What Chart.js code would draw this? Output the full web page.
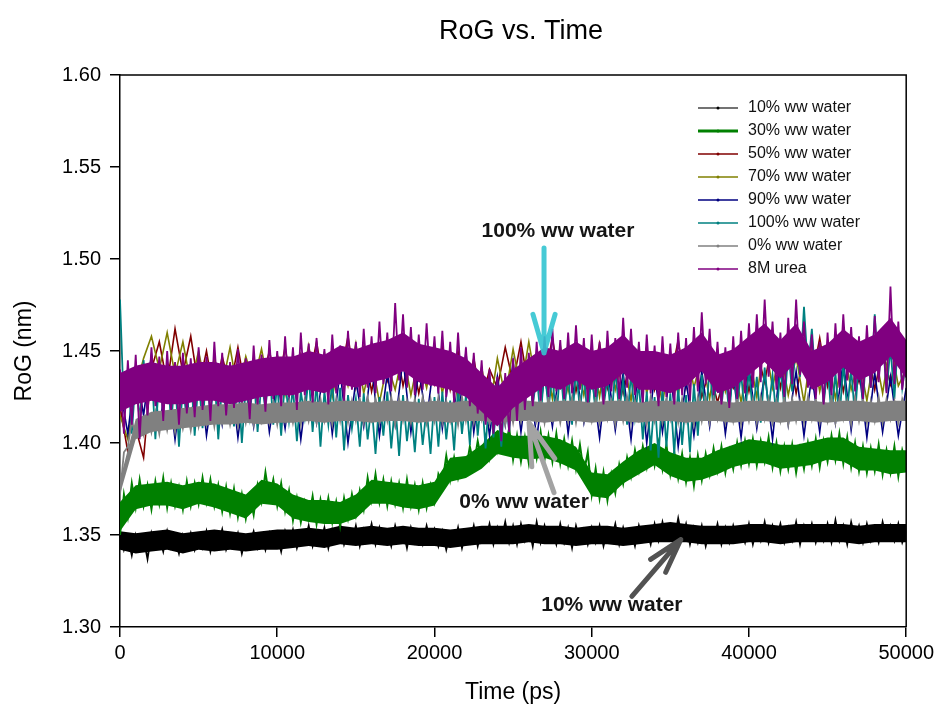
<!DOCTYPE html>
<html>
<head>
<meta charset="utf-8">
<title>RoG vs. Time</title>
<script src="https://cdn.jsdelivr.net/npm/chart.js@4.4.1/dist/chart.umd.min.js"></script>
<style>
  html, body { margin: 0; padding: 0; background: #fff; }
  #wrap { width: 938px; height: 706px; }
</style>
</head>
<body>
<div id="wrap"><canvas id="rogChart" width="938" height="706"></canvas></div>
<script>
// Sampling times (ps)
const timeFine = [
  0,250,500,750,1000,1250,1500,1750,2000,2250,2500,2750,3000,3250,3500,3750,4000,4250,4500,4750,
  5000,5250,5500,5750,6000,6250,6500,6750,7000,7250,7500,7750,8000,8250,8500,8750,9000,9250,9500,9750,
  10000,10250,10500,10750,11000,11250,11500,11750,12000,12250,12500,12750,13000,13250,13500,13750,14000,14250,14500,14750,
  15000,15250,15500,15750,16000,16250,16500,16750,17000,17250,17500,17750,18000,18250,18500,18750,19000,19250,19500,19750,
  20000,20250,20500,20750,21000,21250,21500,21750,22000,22250,22500,22750,23000,23250,23500,23750,24000,24250,24500,24750,
  25000,25250,25500,25750,26000,26250,26500,26750,27000,27250,27500,27750,28000,28250,28500,28750,29000,29250,29500,29750,
  30000,30250,30500,30750,31000,31250,31500,31750,32000,32250,32500,32750,33000,33250,33500,33750,34000,34250,34500,34750,
  35000,35250,35500,35750,36000,36250,36500,36750,37000,37250,37500,37750,38000,38250,38500,38750,39000,39250,39500,39750,
  40000,40250,40500,40750,41000,41250,41500,41750,42000,42250,42500,42750,43000,43250,43500,43750,44000,44250,44500,44750,
  45000,45250,45500,45750,46000,46250,46500,46750,47000,47250,47500,47750,48000,48250,48500,48750,49000,49250,49500,49750,
  50000
];
const timeCoarse = [
  0,500,1000,1500,2000,2500,3000,3500,4000,4500,5000,5500,6000,6500,7000,7500,8000,8500,9000,9500,
  10000,10500,11000,11500,12000,12500,13000,13500,14000,14500,15000,15500,16000,16500,17000,17500,18000,18500,19000,19500,
  20000,20500,21000,21500,22000,22500,23000,23500,24000,24500,25000,25500,26000,26500,27000,27500,28000,28500,29000,29500,
  30000,30500,31000,31500,32000,32500,33000,33500,34000,34500,35000,35500,36000,36500,37000,37500,38000,38500,39000,39500,
  40000,40500,41000,41500,42000,42500,43000,43500,44000,44500,45000,45500,46000,46500,47000,47500,48000,48500,49000,49500,
  50000
];
const timeEnv = [
  0,1000,2000,3000,4000,5000,6000,7000,8000,9000,
  10000,11000,12000,13000,14000,15000,16000,17000,18000,19000,
  20000,21000,22000,23000,24000,25000,26000,27000,28000,29000,
  30000,31000,32000,33000,34000,35000,36000,37000,38000,39000,
  40000,41000,42000,43000,44000,45000,46000,47000,48000,49000,
  50000
];

// RoG (nm): noisy traces
const rog10 = [
  1.352,1.342,1.349,1.339,1.350,1.343,1.348,1.337,1.351,1.344,1.349,1.341,1.352,1.343,1.348,1.340,1.350,1.344,1.351,1.342,
  1.349,1.343,1.352,1.341,1.350,1.345,1.353,1.342,1.348,1.344,1.351,1.340,1.349,1.345,1.352,1.343,1.350,1.342,1.351,1.344,
  1.350,1.341,1.352,1.345,1.353,1.343,1.351,1.346,1.355,1.344,1.352,1.346,1.354,1.343,1.353,1.347,1.356,1.345,1.352,1.346,
  1.355,1.344,1.353,1.347,1.356,1.345,1.354,1.346,1.352,1.344,1.355,1.347,1.353,1.343,1.354,1.346,1.352,1.345,1.355,1.346,
  1.353,1.344,1.352,1.342,1.351,1.345,1.354,1.343,1.352,1.346,1.355,1.344,1.353,1.347,1.356,1.345,1.354,1.347,1.357,1.346,
  1.355,1.345,1.356,1.347,1.354,1.344,1.357,1.346,1.355,1.347,1.353,1.345,1.356,1.346,1.354,1.343,1.355,1.347,1.353,1.345,
  1.354,1.346,1.355,1.344,1.353,1.347,1.356,1.345,1.354,1.346,1.352,1.344,1.355,1.347,1.353,1.345,1.356,1.347,1.357,1.348,
  1.355,1.347,1.359,1.348,1.356,1.345,1.354,1.346,1.355,1.344,1.353,1.347,1.356,1.345,1.354,1.346,1.355,1.347,1.353,1.346,
  1.356,1.345,1.354,1.347,1.357,1.346,1.355,1.348,1.356,1.346,1.354,1.347,1.357,1.345,1.355,1.348,1.356,1.346,1.354,1.347,
  1.356,1.346,1.358,1.347,1.355,1.345,1.357,1.348,1.355,1.346,1.356,1.347,1.354,1.346,1.357,1.348,1.355,1.347,1.356,1.346,
  1.352
];
const rog30 = [
  1.350,1.372,1.360,1.378,1.365,1.380,1.366,1.377,1.364,1.379,1.367,1.381,1.365,1.378,1.366,1.376,1.364,1.379,1.366,1.378,
  1.367,1.381,1.368,1.380,1.366,1.377,1.363,1.376,1.362,1.375,1.360,1.372,1.359,1.371,1.361,1.377,1.368,1.384,1.370,1.380,
  1.366,1.378,1.363,1.374,1.358,1.370,1.357,1.368,1.359,1.371,1.356,1.369,1.358,1.370,1.357,1.368,1.355,1.370,1.359,1.372,
  1.361,1.374,1.364,1.381,1.369,1.383,1.368,1.380,1.366,1.379,1.367,1.378,1.365,1.380,1.366,1.377,1.364,1.378,1.365,1.377,
  1.368,1.383,1.378,1.393,1.380,1.392,1.381,1.390,1.385,1.398,1.388,1.401,1.390,1.403,1.392,1.406,1.396,1.409,1.397,1.408,
  1.391,1.404,1.390,1.403,1.389,1.405,1.392,1.406,1.391,1.404,1.390,1.405,1.389,1.402,1.388,1.401,1.386,1.399,1.384,1.395,
  1.372,1.386,1.370,1.384,1.369,1.383,1.373,1.388,1.378,1.392,1.382,1.396,1.385,1.398,1.387,1.401,1.388,1.400,1.386,1.399,
  1.383,1.395,1.381,1.394,1.379,1.392,1.377,1.393,1.380,1.394,1.383,1.397,1.385,1.398,1.384,1.396,1.386,1.400,1.388,1.401,
  1.389,1.402,1.388,1.401,1.390,1.403,1.387,1.400,1.385,1.398,1.386,1.399,1.384,1.397,1.386,1.400,1.388,1.402,1.387,1.401,
  1.390,1.404,1.391,1.405,1.389,1.403,1.387,1.400,1.385,1.398,1.384,1.397,1.385,1.399,1.383,1.396,1.384,1.398,1.382,1.396,
  1.388
];
const rog50 = [
  1.420,1.395,1.408,1.392,1.440,1.455,1.432,1.462,1.438,1.458,1.430,1.450,1.425,1.447,1.430,1.452,1.428,1.446,1.432,1.450,
  1.430,1.452,1.426,1.448,1.433,1.455,1.429,1.451,1.435,1.458,1.430,1.452,1.428,1.449,1.434,1.456,1.431,1.450,1.427,1.447,
  1.432,1.453,1.429,1.450,1.426,1.446,1.422,1.440,1.430,1.452,1.433,1.455,1.429,1.448,1.435,1.457,1.431,1.451,1.428,1.449,
  1.433,1.454,1.430,1.450,1.427,1.447,1.432,1.452,1.429,1.448,1.434,1.456,1.430,1.449,1.425,1.440,1.422,1.438,1.430,1.451,
  1.428,1.450,1.433,1.456,1.430,1.452,1.427,1.448,1.434,1.457,1.431,1.453,1.428,1.449,1.433,1.455,1.429,1.451,1.432,1.454,
  1.438
];
const rog70 = [
  1.415,1.402,1.430,1.446,1.458,1.440,1.460,1.437,1.455,1.432,1.450,1.428,1.446,1.431,1.452,1.427,1.447,1.433,1.451,1.429,
  1.448,1.426,1.445,1.432,1.453,1.428,1.449,1.425,1.447,1.431,1.454,1.427,1.446,1.422,1.443,1.429,1.450,1.426,1.447,1.430,
  1.452,1.427,1.448,1.423,1.445,1.420,1.441,1.418,1.446,1.425,1.451,1.429,1.455,1.430,1.449,1.424,1.453,1.428,1.447,1.426,
  1.450,1.425,1.454,1.429,1.448,1.423,1.452,1.427,1.446,1.421,1.449,1.426,1.453,1.430,1.447,1.424,1.451,1.428,1.445,1.422,
  1.449,1.425,1.456,1.430,1.451,1.426,1.447,1.422,1.453,1.428,1.448,1.424,1.452,1.429,1.446,1.423,1.450,1.427,1.455,1.431,
  1.440
];
const rog90 = [
  1.430,1.405,1.442,1.415,1.448,1.408,1.438,1.402,1.436,1.412,1.444,1.404,1.434,1.410,1.440,1.403,1.437,1.409,1.443,1.406,
  1.435,1.408,1.441,1.402,1.437,1.411,1.445,1.405,1.439,1.400,1.434,1.409,1.442,1.404,1.438,1.410,1.446,1.406,1.440,1.412,
  1.447,1.408,1.443,1.412,1.449,1.406,1.438,1.404,1.436,1.410,1.444,1.406,1.440,1.402,1.437,1.409,1.445,1.405,1.439,1.411,
  1.436,1.403,1.441,1.407,1.438,1.402,1.443,1.400,1.437,1.406,1.440,1.398,1.434,1.404,1.439,1.409,1.443,1.405,1.437,1.403,
  1.441,1.408,1.438,1.402,1.444,1.410,1.439,1.404,1.437,1.406,1.442,1.411,1.445,1.407,1.440,1.403,1.438,1.406,1.436,1.404,
  1.430
];
const rog100 = [
  1.478,1.418,1.440,1.405,1.436,1.412,1.445,1.420,1.442,1.402,1.438,1.415,1.444,1.410,1.437,1.398,1.432,1.412,1.440,1.404,
  1.436,1.408,1.441,1.414,1.438,1.402,1.433,1.416,1.440,1.409,1.437,1.400,1.431,1.414,1.439,1.406,1.434,1.418,1.442,1.410,
  1.432,1.404,1.436,1.412,1.430,1.401,1.428,1.414,1.437,1.406,1.433,1.398,1.428,1.410,1.434,1.403,1.430,1.396,1.426,1.408,
  1.424,1.398,1.427,1.402,1.421,1.394,1.425,1.404,1.428,1.397,1.422,1.393,1.426,1.401,1.420,1.395,1.424,1.399,1.419,1.394,
  1.425,1.398,1.428,1.402,1.423,1.396,1.430,1.405,1.426,1.399,1.432,1.404,1.427,1.397,1.429,1.403,1.424,1.398,1.431,1.406,
  1.434,1.412,1.438,1.418,1.445,1.420,1.437,1.414,1.440,1.419,1.436,1.412,1.442,1.417,1.438,1.410,1.441,1.418,1.437,1.413,
  1.439,1.416,1.443,1.419,1.436,1.412,1.440,1.417,1.434,1.410,1.438,1.414,1.433,1.402,1.428,1.396,1.425,1.392,1.430,1.398,
  1.427,1.394,1.431,1.399,1.426,1.395,1.432,1.404,1.437,1.412,1.441,1.418,1.444,1.420,1.439,1.415,1.443,1.421,1.438,1.414,
  1.440,1.416,1.436,1.411,1.441,1.418,1.437,1.413,1.442,1.419,1.450,1.428,1.458,1.436,1.474,1.440,1.462,1.432,1.448,1.421,
  1.441,1.415,1.438,1.412,1.443,1.418,1.440,1.414,1.448,1.422,1.455,1.430,1.470,1.436,1.458,1.428,1.452,1.424,1.460,1.430,
  1.445
];
const rog0 = [
  1.372,1.395,1.398,1.412,1.404,1.416,1.405,1.418,1.406,1.417,1.405,1.419,1.407,1.418,1.406,1.420,1.408,1.419,1.407,1.421,
  1.409,1.421,1.410,1.422,1.409,1.423,1.411,1.422,1.410,1.421,1.409,1.423,1.411,1.422,1.410,1.424,1.412,1.423,1.411,1.422,
  1.410,1.424,1.412,1.423,1.411,1.422,1.410,1.424,1.412,1.423,1.411,1.424,1.412,1.423,1.410,1.424,1.412,1.425,1.411,1.423,
  1.412,1.424,1.411,1.425,1.413,1.424,1.411,1.423,1.412,1.425,1.410,1.424,1.412,1.423,1.411,1.424,1.413,1.425,1.411,1.424,
  1.412,1.425,1.411,1.423,1.412,1.424,1.410,1.425,1.412,1.423,1.411,1.424,1.413,1.425,1.411,1.423,1.412,1.424,1.410,1.423,
  1.411,1.424,1.412,1.425,1.410,1.423,1.412,1.424,1.411,1.425,1.413,1.424,1.411,1.423,1.412,1.425,1.411,1.424,1.412,1.423,
  1.412,1.424,1.411,1.425,1.413,1.423,1.410,1.424,1.412,1.425,1.411,1.423,1.413,1.424,1.410,1.425,1.412,1.423,1.411,1.424,
  1.413,1.425,1.411,1.424,1.412,1.423,1.410,1.425,1.412,1.424,1.411,1.425,1.413,1.423,1.411,1.424,1.412,1.425,1.410,1.423,
  1.412,1.424,1.411,1.425,1.413,1.424,1.411,1.423,1.412,1.425,1.410,1.424,1.412,1.423,1.411,1.425,1.413,1.424,1.411,1.423,
  1.412,1.425,1.411,1.424,1.413,1.423,1.410,1.425,1.412,1.424,1.411,1.423,1.412,1.425,1.411,1.424,1.413,1.423,1.411,1.424,
  1.418
];
const rogUrea = [
  1.440,1.405,1.445,1.410,1.448,1.402,1.442,1.415,1.452,1.420,1.447,1.412,1.450,1.418,1.444,1.410,1.449,1.416,1.446,1.414,
  1.452,1.418,1.447,1.412,1.455,1.420,1.449,1.415,1.444,1.419,1.451,1.422,1.446,1.413,1.453,1.421,1.448,1.417,1.456,1.424,
  1.450,1.420,1.458,1.425,1.452,1.418,1.460,1.426,1.454,1.422,1.457,1.428,1.451,1.421,1.459,1.427,1.453,1.423,1.461,1.429,
  1.455,1.425,1.462,1.430,1.458,1.427,1.466,1.432,1.460,1.428,1.476,1.434,1.470,1.430,1.463,1.426,1.459,1.429,1.465,1.431,
  1.458,1.427,1.461,1.425,1.455,1.422,1.460,1.426,1.452,1.420,1.449,1.416,1.445,1.410,1.440,1.405,1.436,1.401,1.438,1.406,
  1.446,1.412,1.452,1.418,1.449,1.420,1.455,1.423,1.458,1.425,1.462,1.428,1.456,1.424,1.460,1.427,1.464,1.429,1.457,1.422,
  1.459,1.425,1.455,1.421,1.461,1.428,1.457,1.424,1.468,1.430,1.462,1.426,1.455,1.422,1.459,1.427,1.453,1.420,1.458,1.425,
  1.454,1.421,1.460,1.426,1.457,1.423,1.463,1.428,1.471,1.432,1.462,1.426,1.455,1.421,1.452,1.419,1.458,1.424,1.461,1.427,
  1.465,1.430,1.470,1.433,1.478,1.436,1.466,1.429,1.460,1.425,1.468,1.432,1.478,1.437,1.466,1.430,1.459,1.424,1.455,1.421,
  1.460,1.426,1.465,1.430,1.470,1.434,1.463,1.428,1.458,1.424,1.464,1.430,1.469,1.433,1.462,1.427,1.485,1.432,1.466,1.429,
  1.450
];

// Solid core of each dense band (lower / upper edge)
const env10Lo = [
  1.342,1.340,1.341,1.342,1.340,1.342,1.341,1.342,1.341,1.342,
  1.342,1.343,1.344,1.343,1.345,1.344,1.345,1.344,1.345,1.344,
  1.344,1.343,1.344,1.345,1.345,1.345,1.346,1.345,1.345,1.344,
  1.345,1.345,1.344,1.345,1.346,1.346,1.346,1.345,1.345,1.345,
  1.346,1.346,1.345,1.346,1.346,1.346,1.346,1.345,1.346,1.346,
  1.346
];
const env10Hi = [
  1.352,1.351,1.352,1.353,1.351,1.352,1.353,1.352,1.351,1.352,
  1.353,1.353,1.354,1.353,1.355,1.354,1.355,1.354,1.355,1.354,
  1.354,1.353,1.354,1.355,1.355,1.355,1.356,1.355,1.355,1.354,
  1.355,1.355,1.354,1.355,1.356,1.357,1.356,1.355,1.355,1.355,
  1.356,1.356,1.355,1.356,1.356,1.356,1.356,1.355,1.356,1.356,
  1.356
];
const env30Lo = [
  1.352,1.364,1.366,1.366,1.364,1.367,1.365,1.362,1.359,1.367,
  1.366,1.359,1.357,1.356,1.356,1.359,1.367,1.367,1.365,1.364,
  1.366,1.379,1.381,1.386,1.394,1.392,1.391,1.392,1.389,1.385,
  1.371,1.370,1.378,1.383,1.388,1.382,1.379,1.380,1.383,1.387,
  1.389,1.389,1.386,1.387,1.388,1.391,1.390,1.385,1.385,1.383,
  1.384
];
const env30Hi = [
  1.368,1.377,1.378,1.379,1.377,1.379,1.378,1.375,1.372,1.380,
  1.378,1.372,1.369,1.369,1.368,1.372,1.380,1.379,1.378,1.377,
  1.379,1.392,1.393,1.399,1.407,1.404,1.404,1.404,1.402,1.398,
  1.384,1.383,1.390,1.396,1.400,1.395,1.392,1.392,1.396,1.399,
  1.402,1.401,1.399,1.399,1.401,1.403,1.403,1.398,1.397,1.396,
  1.396
];
const env0Lo = [
  1.372,1.402,1.406,1.407,1.408,1.409,1.410,1.410,1.411,1.410,
  1.411,1.411,1.412,1.411,1.412,1.412,1.411,1.412,1.412,1.411,
  1.412,1.411,1.412,1.412,1.411,1.412,1.412,1.411,1.412,1.412,
  1.411,1.412,1.412,1.411,1.412,1.412,1.411,1.412,1.412,1.411,
  1.412,1.412,1.411,1.412,1.412,1.411,1.412,1.412,1.411,1.412,
  1.412
];
const env0Hi = [
  1.380,1.413,1.417,1.418,1.419,1.420,1.421,1.421,1.422,1.421,
  1.422,1.422,1.423,1.422,1.423,1.423,1.422,1.423,1.423,1.422,
  1.423,1.422,1.423,1.423,1.422,1.423,1.423,1.422,1.423,1.423,
  1.422,1.423,1.423,1.422,1.423,1.423,1.422,1.423,1.423,1.422,
  1.423,1.423,1.422,1.423,1.423,1.422,1.423,1.423,1.422,1.423,
  1.423
];
const envUreaLo = [
  1.417,1.421,1.423,1.421,1.421,1.423,1.423,1.421,1.423,1.425,
  1.426,1.426,1.429,1.427,1.432,1.430,1.433,1.435,1.439,1.433,
  1.431,1.429,1.425,1.417,1.409,1.419,1.425,1.431,1.429,1.434,
  1.429,1.431,1.438,1.429,1.429,1.427,1.431,1.439,1.427,1.430,
  1.437,1.444,1.435,1.444,1.429,1.433,1.441,1.434,1.438,1.447,
  1.435
];
const envUreaHi = [
  1.438,1.442,1.444,1.442,1.442,1.444,1.444,1.442,1.444,1.446,
  1.447,1.447,1.450,1.448,1.453,1.451,1.454,1.456,1.460,1.454,
  1.452,1.450,1.446,1.438,1.430,1.440,1.446,1.452,1.450,1.455,
  1.450,1.452,1.459,1.450,1.450,1.448,1.452,1.460,1.448,1.451,
  1.458,1.465,1.456,1.465,1.450,1.454,1.462,1.455,1.459,1.468,
  1.456
];

const seriesNames = ["10% ww water", "30% ww water", "50% ww water", "70% ww water",
                     "90% ww water", "100% ww water", "0% ww water", "8M urea"];
const seriesColors = ["#000000", "#008000", "#800000", "#808000",
                      "#000080", "#008080", "#808080", "#800080"];
const xTicks = [0, 10000, 20000, 30000, 40000, 50000];
const yTicks = [1.30, 1.35, 1.40, 1.45, 1.50, 1.55, 1.60];

const FONT = "'Liberation Sans', Arial, sans-serif";
const lineWidths = [1.8, 2, 1.6, 1.6, 1.6, 1.8, 1.8, 1.8];

function pairs(times, values) {
  return times.map((t, i) => ({ x: t, y: values[i] }));
}

const seriesData = [
  pairs(timeFine, rog10), pairs(timeFine, rog30), pairs(timeCoarse, rog50), pairs(timeCoarse, rog70),
  pairs(timeCoarse, rog90), pairs(timeFine, rog100), pairs(timeFine, rog0), pairs(timeFine, rogUrea)
];
const bands = [
  [env10Lo, env10Hi], [env30Lo, env30Hi], null, null,
  null, null, [env0Lo, env0Hi], [envUreaLo, envUreaHi]
];

// later series are drawn on top (purple last); each band is filled under its own trace
const datasets = [];
seriesNames.forEach((name, i) => {
  const order = seriesNames.length - i;
  datasets.push({
    label: name,
    data: seriesData[i],
    borderColor: seriesColors[i],
    backgroundColor: seriesColors[i],
    borderWidth: lineWidths[i],
    borderJoinStyle: "miter",
    pointRadius: 0,
    tension: 0,
    order: order
  });
  if (bands[i]) {
    datasets.push({
      label: name + " (upper)",
      data: pairs(timeEnv, bands[i][1]),
      borderWidth: 0,
      pointRadius: 0,
      fill: false,
      order: order
    });
    datasets.push({
      label: name + " (lower)",
      data: pairs(timeEnv, bands[i][0]),
      borderWidth: 0,
      pointRadius: 0,
      backgroundColor: seriesColors[i],
      fill: "-1",
      order: order
    });
  }
});

// Titulo, moldura, legenda e setas desenhados sobre o canvas
const decorPlugin = {
  id: "decor",
  afterDraw(chart) {
    const { ctx, chartArea: a, scales: { x, y } } = chart;
    ctx.save();

    // moldura superior / direita
    ctx.strokeStyle = "#000";
    ctx.lineWidth = 1.5;
    ctx.beginPath();
    ctx.moveTo(a.left, a.top);
    ctx.lineTo(a.right, a.top);
    ctx.lineTo(a.right, a.bottom);
    ctx.stroke();

    // titulo
    ctx.fillStyle = "#000";
    ctx.font = "27px " + FONT;
    ctx.textAlign = "center";
    ctx.textBaseline = "middle";
    ctx.fillText("RoG vs. Time", 521, 32);

    // legenda
    ctx.font = "16px " + FONT;
    ctx.textAlign = "left";
    seriesNames.forEach((name, i) => {
      const ly = 108 + i * 23;
      ctx.strokeStyle = i === 0 ? "#444" : seriesColors[i];
      ctx.lineWidth = i === 1 ? 3 : 1.5;
      ctx.beginPath();
      ctx.moveTo(698, ly);
      ctx.lineTo(738, ly);
      ctx.stroke();
      ctx.fillStyle = seriesColors[i];
      ctx.beginPath();
      ctx.arc(718, ly, 1.5, 0, Math.PI * 2);
      ctx.fill();
      ctx.fillStyle = "#111";
      ctx.fillText(name, 748, ly);
    });

    // setas de anotacao
    const arrows = [
      { color: "rgba(50,196,208,0.9)", from: [26967, 1.506], to: [26967, 1.449], head: 40 },
      { color: "#a3a3a3", from: [27602, 1.373], to: [26015, 1.411], head: 44 },
      { color: "#525252", from: [32551, 1.3166], to: [35660, 1.3475], head: 36 }
    ];
    ctx.lineCap = "round";
    ctx.lineJoin = "round";
    ctx.lineWidth = 5;
    arrows.forEach(ar => {
      const x0 = x.getPixelForValue(ar.from[0]), y0 = y.getPixelForValue(ar.from[1]);
      const x1 = x.getPixelForValue(ar.to[0]), y1 = y.getPixelForValue(ar.to[1]);
      const ang = Math.atan2(y0 - y1, x0 - x1);
      ctx.strokeStyle = ar.color;
      ctx.beginPath();
      ctx.moveTo(x0, y0);
      ctx.lineTo(x1, y1);
      [-0.28, 0.28].forEach(d => {
        ctx.moveTo(x1, y1);
        ctx.lineTo(x1 + ar.head * Math.cos(ang + d), y1 + ar.head * Math.sin(ang + d));
      });
      ctx.stroke();
    });

    // textos das anotacoes
    const notes = [
      { text: "100% ww water", t: 27855, v: 1.5153 },
      { text: "0% ww water", t: 25698, v: 1.3676 },
      { text: "10% ww water", t: 31282, v: 1.3116 }
    ];
    ctx.font = "bold 21px " + FONT;
    ctx.textAlign = "center";
    ctx.fillStyle = "#151515";
    notes.forEach(n => ctx.fillText(n.text, x.getPixelForValue(n.t), y.getPixelForValue(n.v)));

    ctx.restore();
  }
};

new Chart(document.getElementById("rogChart"), {
  type: "line",
  data: { datasets: datasets },
  options: {
    responsive: false,
    devicePixelRatio: 1,
    animation: false,
    layout: { padding: { top: 75, right: 30, left: 0, bottom: 0 } },
    plugins: {
      legend: { display: false },
      title: { display: false },
      tooltip: { enabled: false }
    },
    scales: {
      x: {
        type: "linear",
        min: 0,
        max: 50000,
        afterBuildTicks: s => { s.ticks = xTicks.map(v => ({ value: v })); },
        afterFit: s => { s.height = 79; },
        ticks: {
          color: "#000",
          font: { family: FONT, size: 20 },
          padding: 4,
          maxRotation: 0,
          autoSkip: false,
          callback: v => String(v)
        },
        grid: { drawOnChartArea: false, drawTicks: true, tickLength: 10, color: "#000", lineWidth: 1.5 },
        border: { display: true, color: "#000", width: 1.5 },
        title: { display: true, text: "Time (ps)", color: "#000", font: { family: FONT, size: 23 }, padding: { top: 0, bottom: 0 } }
      },
      y: {
        min: 1.30,
        max: 1.60,
        afterBuildTicks: s => { s.ticks = yTicks.map(v => ({ value: v })); },
        afterFit: s => { s.width = 120; },
        ticks: {
          color: "#000",
          font: { family: FONT, size: 20 },
          padding: 9,
          callback: v => Number(v).toFixed(2)
        },
        grid: { drawOnChartArea: false, drawTicks: true, tickLength: 10, color: "#000", lineWidth: 1.5 },
        border: { display: true, color: "#000", width: 1.5 },
        title: { display: true, text: "RoG (nm)", color: "#000", font: { family: FONT, size: 23 }, padding: { top: 11, bottom: 0 } }
      }
    }
  },
  plugins: [decorPlugin]
});
</script>
</body>
</html>
